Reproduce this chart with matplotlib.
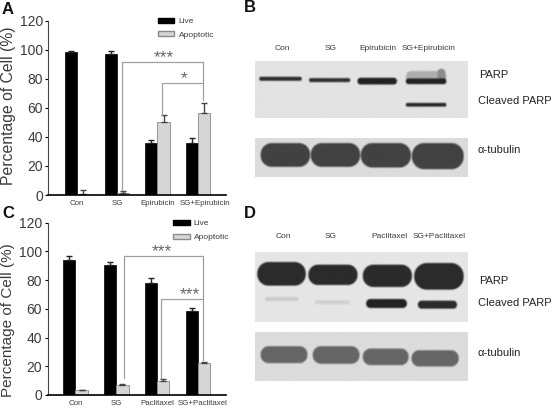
import numpy as np
import matplotlib
matplotlib.use("Agg")
import matplotlib.pyplot as plt
from matplotlib.patches import Patch

plt.rcParams['font.family'] = ['Liberation Sans', 'DejaVu Sans']

W, H = 553, 408
GREY = "#d6d6d6"
TXT = "#3c3c3c"
BRACKET = "#a0a0a0"

yticks = [0, 20, 40, 60, 80, 100, 120]
cats_a = ["Con", "SG", "Epirubicin", "SG+Epirubicin"]
live_a = [98, 97, 36, 35.5]
live_err_a = [1, 2.2, 2, 3.5]
apop_a = [0.8, 1.5, 50, 56.5]
apop_err_a = [2.5, 1.5, 4.8, 7]

cats_c = ["Con", "SG", "Paclitaxel", "SG+Paclitaxel"]
live_c = [94, 90.5, 78, 58.5]
live_err_c = [2.5, 1.8, 3.2, 2.2]
apop_c = [3.2, 7.2, 10, 22.5]
apop_err_c = [0.5, 0.5, 0.8, 0.8]

blot_labels_b = ["Con", "SG", "Epirubicin", "SG+Epirubicin"]
blot_labels_d = ["Con", "SG", "Paclitaxel", "SG+Paclitaxel"]

fig = plt.figure(figsize=(W/100, H/100), dpi=100)


def px_axes(left, right, top, bottom):
    return fig.add_axes([left/W, 1-bottom/H, (right-left)/W, (bottom-top)/H])


# bar panel, same layout for A and C
def bars(ax, cats, live, live_err, apop, apop_err, label_y, label_size, last_tick):
    x = np.arange(4)
    w = 0.3
    ax.bar(x-w/2, live, w, color="black", edgecolor="black", linewidth=0.5,
           yerr=[[0]*4, live_err], error_kw=dict(ecolor="#222222", elinewidth=1, capsize=2, capthick=1))
    ax.bar(x+w/2, apop, w, color=GREY, edgecolor="#8a8a8a", linewidth=0.6,
           yerr=[[0]*4, apop_err], error_kw=dict(ecolor="#444444", elinewidth=1, capsize=2, capthick=1))
    ax.set_ylim(0, 120)
    ax.set_yticks(yticks)
    # the last label sits right of its bars in the original
    ax.set_xticks([0, 1, 2, last_tick])
    ax.set_xticklabels(cats, fontsize=5.7, color=TXT)
    ax.tick_params(axis="x", length=0, pad=3.5)
    ax.tick_params(axis="y", labelsize=10, labelcolor=TXT, length=2, width=0.8, pad=2)
    ax.spines["top"].set_visible(False)
    ax.spines["right"].set_visible(False)
    ax.spines["left"].set_color("#444444")
    ax.spines["bottom"].set_linewidth(1.2)
    ax.set_ylabel("Percentage of Cell (%)", fontsize=label_size, color=TXT, labelpad=3)
    ax.yaxis.label.set_y(label_y)
    ax.patch.set_alpha(0)


def legend(ax, anchor):
    h = [Patch(facecolor="black", edgecolor="black", label="Live"),
         Patch(facecolor=GREY, edgecolor="#8a8a8a", label="Apoptotic")]
    leg = ax.legend(handles=h, loc="upper left", bbox_to_anchor=(anchor[0]/W, 1-anchor[1]/H),
                    bbox_transform=fig.transFigure, frameon=False, handlelength=2.0, handleheight=0.55,
                    labelspacing=0.75, handletextpad=0.5, borderaxespad=0, borderpad=0,
                    prop=dict(size=6))
    for t in leg.get_texts():
        t.set_color(TXT)


ax_a = px_axes(48.5, 226, 20.5, 195)
bars(ax_a, cats_a, live_a, live_err_a, apop_a, apop_err_a, 0.51, 11.3, 3.18)
ax_a.set_xlim(-0.705, 3.70)
legend(ax_a, (157.7, 17.5))
ax_a.plot([1.13, 1.13, 3.13, 3.13], [3.5, 91.5, 91.5, 65], color=BRACKET, lw=0.9)
ax_a.plot([2.1, 2.1, 3.13], [55, 77, 77], color=BRACKET, lw=0.9)
ax_a.text(2.15, 89, "***", ha="center", va="bottom", fontsize=12.5, color="#666666")
ax_a.text(2.65, 75, "*", ha="center", va="bottom", fontsize=12.5, color="#666666")

ax_c = px_axes(47.5, 226, 222.7, 395)
bars(ax_c, cats_c, live_c, live_err_c, apop_c, apop_err_c, 0.435, 11, 3.125)
ax_c.set_xlim(-0.686, 3.69)
legend(ax_c, (173, 220))
ax_c.plot([1.19, 1.19, 3.12, 3.12], [12, 97, 97, 24.4], color=BRACKET, lw=0.9)
ax_c.plot([2.1, 2.1, 3.12], [12, 67, 67], color=BRACKET, lw=0.9)
ax_c.text(2.12, 94.5, "***", ha="center", va="bottom", fontsize=12.5, color="#666666")
ax_c.text(2.8, 65, "***", ha="center", va="bottom", fontsize=12.5, color="#666666")

# western blots, rendered as soft rounded bands, coordinates are 3x px relative to x=240
overlay = fig.add_axes([0, 0, 1, 1], zorder=5)
overlay.axis("off")
overlay.patch.set_alpha(0)


def blot(x0, x1, y0, y1, bands, bg=0.89):
    xx, yy = np.meshgrid(np.arange(x0, x1)+0.5, np.arange(y0, y1)+0.5)
    img = np.full(xx.shape, bg)
    for bx0, bx1, by0, by1, level in bands:
        r = min((by1-by0)/2, (bx1-bx0)/2)*0.95
        dx = np.abs(xx-(bx0+bx1)/2)-((bx1-bx0)/2-r)
        dy = np.abs(yy-(by0+by1)/2)-((by1-by0)/2-r)
        d = np.hypot(np.maximum(dx, 0), np.maximum(dy, 0))+np.minimum(np.maximum(dx, dy), 0)-r
        a = np.clip(0.5-d/6, 0, 1)
        img = img*(1-a)+level*a
    overlay.imshow(img, cmap="gray", vmin=0, vmax=1, interpolation="bilinear", aspect="auto",
                   extent=[240+x0/3, 240+x1/3, y1/3, y0/3], zorder=2)


blot(45, 683, 185, 355, [
    (497, 618, 215, 250, 0.68), (592, 615, 208, 250, 0.55),
    (58, 185, 232, 244, 0.18), (207, 330, 236, 248, 0.2), (352, 470, 235, 255, 0.14),
    (497, 618, 237, 254, 0.14), (497, 618, 310, 321, 0.16)])
blot(45, 683, 415, 530, [
    (62, 210, 430, 500, 0.26), (212, 360, 430, 500, 0.26),
    (362, 512, 430, 502, 0.26), (515, 670, 430, 507, 0.26)], bg=0.86)
blot(45, 683, 757, 967, [
    (75, 175, 892, 904, 0.80), (225, 330, 902, 914, 0.82),
    (52, 197, 787, 858, 0.17), (205, 352, 795, 856, 0.17), (368, 515, 795, 862, 0.17), (522, 670, 790, 870, 0.17),
    (378, 500, 898, 925, 0.14), (533, 650, 903, 927, 0.17)], bg=0.90)
blot(45, 683, 998, 1143, [
    (62, 202, 1040, 1090, 0.40), (218, 358, 1040, 1092, 0.40),
    (368, 505, 1047, 1096, 0.40), (514, 655, 1052, 1100, 0.40)], bg=0.86)
overlay.set_xlim(0, W)
overlay.set_ylim(H, 0)

for s, x in zip(blot_labels_b, [282.7, 330.7, 378, 429]):
    overlay.text(x, 48, s, ha="center", va="center", fontsize=6, color=TXT)
for s, x in zip(blot_labels_d, [283, 330.7, 389, 439]):
    overlay.text(x, 236, s, ha="center", va="center", fontsize=6, color=TXT)
for lbl, x, y in [("PARP", 479, 75), ("Cleaved PARP", 478, 101), ("\u03b1-tubulin", 478, 150),
                  ("PARP", 479, 281), ("Cleaved PARP", 478, 303), ("\u03b1-tubulin", 478, 353)]:
    overlay.text(x, y, lbl, ha="left", va="center", fontsize=8, color="#222222")
for lbl, x, y in [("A", 2, 9), ("B", 244, 8), ("C", 2, 213), ("D", 244, 213)]:
    overlay.text(x, y, lbl, ha="left", va="center", fontsize=12, fontweight="bold", color="#111111")

plt.savefig("out.png", dpi=100)
